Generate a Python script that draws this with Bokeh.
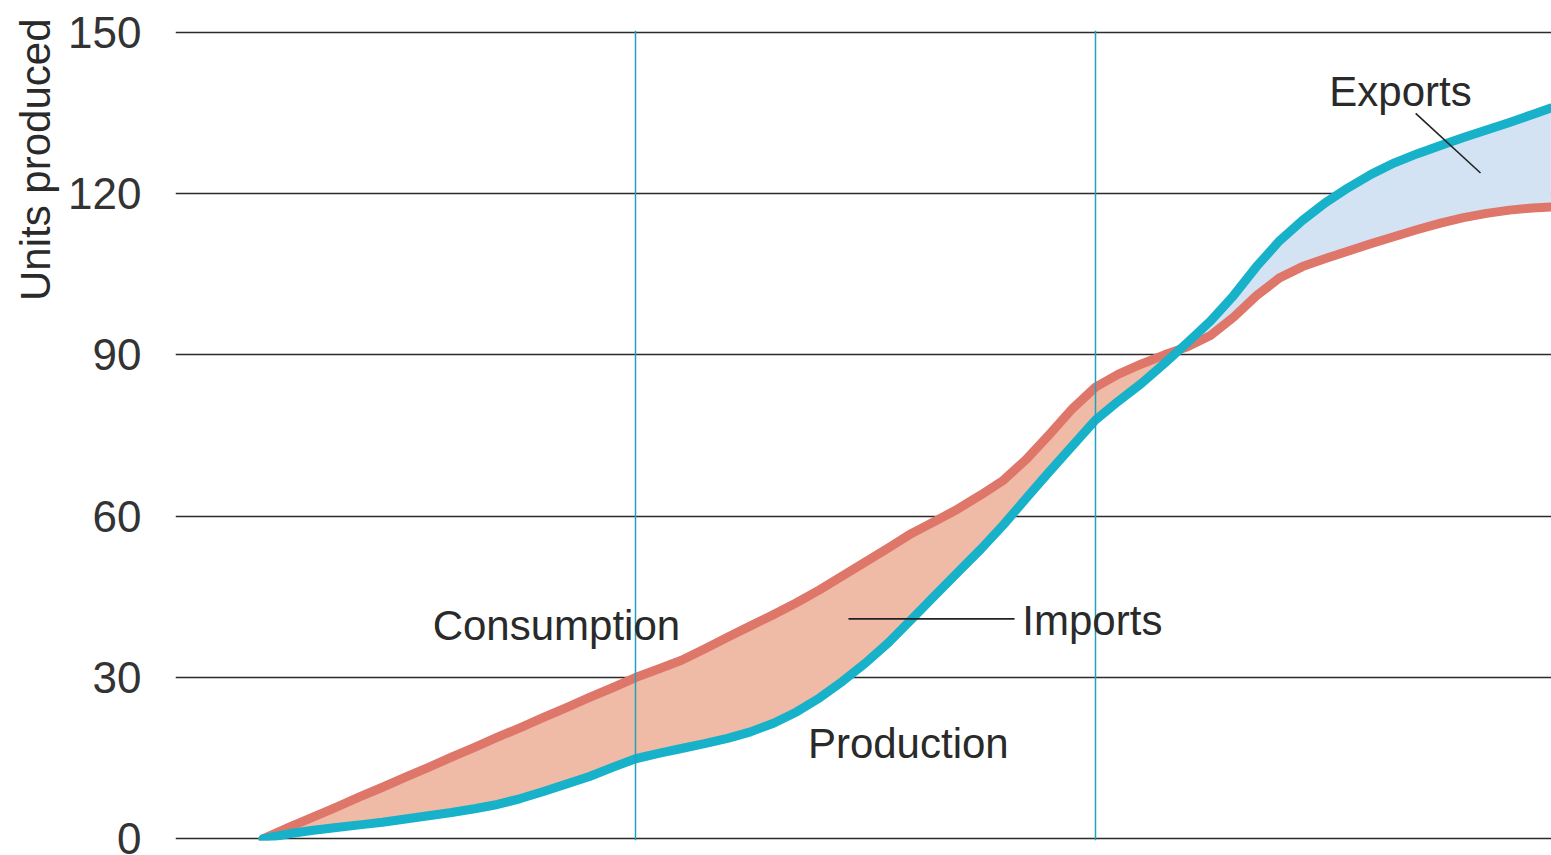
import numpy as np
from bokeh.plotting import figure
from bokeh.models import Range1d, Span, Label, FixedTicker, Title
from bokeh.embed import file_html
from bokeh.resources import INLINE

# ---- data ----
x_vals = [1.9, 2, 2.5, 3, 3.5, 4, 4.5, 5, 5.5, 6, 6.5, 7, 7.5, 8, 8.5, 9, 9.5, 10,
          10.5, 11, 11.5, 12, 12.5, 13, 13.5, 14, 14.5, 15, 15.5, 16, 16.5, 17, 17.5,
          18, 18.5, 19, 19.5, 20, 20.5, 21, 21.5, 22, 22.5, 23, 23.5, 24, 24.5, 25,
          25.5, 26, 26.5, 27, 27.5, 28, 28.5, 29, 29.5, 29.9]
consumption = [0, 0.4, 2.3, 4.1, 5.9, 7.8, 9.6, 11.5, 13.3, 15.2, 17.0, 18.9, 20.7,
               22.6, 24.4, 26.3, 28.1, 30.0,
               31.6, 33.2, 35.3, 37.5, 39.6, 41.7, 43.9, 46.3, 48.9, 51.5, 54.1, 56.8,
               59.0, 61.3, 63.9, 66.7, 70.6, 75.2, 80.0, 84.0, 86.4, 88.3, 90.0, 91.5,
               93.6, 97.0, 101.0, 104.3, 106.4, 107.9, 109.3, 110.7, 112.0, 113.3,
               114.5, 115.5, 116.3, 116.9, 117.3, 117.5]
production = [0, 0.2, 1.0, 1.6, 2.1, 2.6, 3.1, 3.7, 4.3, 4.9, 5.6, 6.4, 7.5, 8.8,
              10.2, 11.6, 13.3, 14.9,
              15.9, 16.8, 17.7, 18.7, 19.9, 21.5, 23.6, 26.2, 29.3, 32.7, 36.5, 40.8,
              45.2, 49.5, 53.8, 58.4, 63.4, 68.3, 73.1, 77.9, 81.4, 84.7, 88.4, 92.3,
              96.3, 101.0, 106.4, 111.2, 115.0, 118.3, 121.1, 123.6, 125.7, 127.4,
              128.9, 130.4, 131.8, 133.2, 134.7, 135.9]
y_ticks = [0, 30, 60, 90, 120, 150]
period_marks = [10, 20]

# annotations: (text, x, y, align)
labels = [("Consumption", 8.28, 39.6, "center"),
          ("Production", 15.93, 17.7, "center"),
          ("Imports", 18.41, 40.6, "left"),
          ("Exports", 26.63, 139.0, "center")]
leaders = [([14.63, 18.24], [40.9, 40.9]),
           ([26.96, 28.37], [134.9, 123.8])]

# ---- figure ----
RED = "#de766a"
TEAL = "#17b2c9"
FONT = "Liberation Sans"

p = figure(width=1551, height=855, output_backend="svg", toolbar_location=None,
           x_range=Range1d(0, 1376 / 46), y_range=Range1d(-0.3, 150.3),
           x_axis_location=None, min_border_left=175, min_border_right=0,
           min_border_top=30, min_border_bottom=15)
p.outline_line_color = None
p.xgrid.grid_line_color = None
p.ygrid.grid_line_color = "#2b2b2b"
p.ygrid.grid_line_width = 1.7
p.yaxis.ticker = FixedTicker(ticks=y_ticks)
p.yaxis.axis_line_color = None
p.yaxis.major_tick_line_color = None
p.yaxis.minor_tick_line_color = None
p.yaxis.major_label_text_font = FONT
p.yaxis.major_label_text_font_size = "44px"
p.yaxis.major_label_text_color = "#333333"
p.yaxis.major_label_standoff = 28

cons = np.array(consumption)
prod = np.array(production)
p.varea(x=x_vals, y1=prod, y2=np.maximum(cons, prod), fill_color="#efbba6")
p.varea(x=x_vals, y1=cons, y2=np.maximum(cons, prod), fill_color="#d4e3f3")

for m in period_marks:
    p.add_layout(Span(location=m, dimension="height", line_color="#1fa2bb", line_width=1.5))

p.line(x_vals, consumption, line_color=RED, line_width=9, line_cap="round", line_join="round")
p.line(x_vals, production, line_color=TEAL, line_width=9, line_cap="round", line_join="round")

for lx, ly in leaders:
    p.line(lx, ly, line_color="#222222", line_width=1.6)

for t, x, y, a in labels:
    p.add_layout(Label(x=x, y=y, text=t, text_align=a, text_baseline="middle",
                       text_font=FONT, text_font_size="42px", text_color="#2a2a2a"))

p.add_layout(Title(text="Units produced", align="right", text_font=FONT,
                   text_font_size="42px", text_font_style="normal",
                   text_color="#2a2a2a", standoff=14, offset=-12), "left")

open("out.html", "w").write(file_html(p, INLINE))
